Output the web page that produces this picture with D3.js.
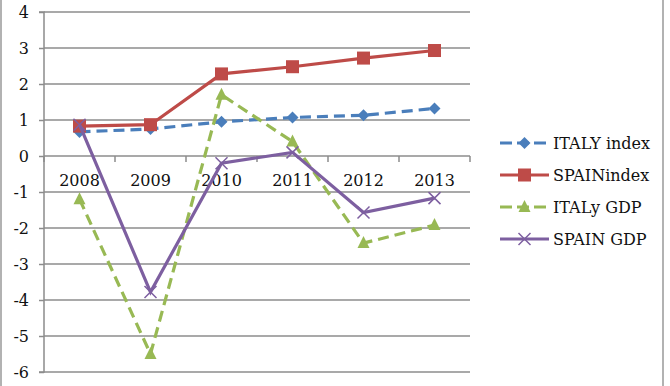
<!DOCTYPE html>
<html><head><meta charset="utf-8">
<script src="https://cdn.jsdelivr.net/npm/d3@7"></script>
<style>body{margin:0;background:#fff}svg{display:block}</style>
</head><body>
<svg id="c" width="670" height="386"></svg>
<script>
const categories = ["2008","2009","2010","2011","2012","2013"];
const italyIndex = [0.67, 0.75, 0.95, 1.07, 1.13, 1.32];
const spainIndex = [0.83, 0.87, 2.28, 2.48, 2.72, 2.93];
const italyGDP   = [-1.2, -5.5, 1.7, 0.4, -2.42, -1.92];
const spainGDP   = [0.87, -3.78, -0.2, 0.1, -1.57, -1.17];
const yTicks = [4,3,2,1,0,-1,-2,-3,-4,-5,-6];
const seriesNames = ["ITALY index","SPAINindex","ITALy GDP","SPAIN GDP"];

const font = "'DejaVu Serif', serif";
const svg = d3.select("#c");
const L = 44, R = 470, T = 12, B = 372;
const x = d3.scaleBand().domain(categories).range([L, R]);
const y = d3.scaleLinear().domain([-6, 4]).range([B, T]);

// frame lines
svg.append("line").attr("x1",1).attr("x2",1).attr("y1",0).attr("y2",386).attr("stroke","#999").attr("stroke-width",1.5);
svg.append("line").attr("x1",663).attr("x2",663).attr("y1",0).attr("y2",386).attr("stroke","#999").attr("stroke-width",1.5);

// gridlines
svg.append("g").selectAll("line").data(yTicks).join("line")
  .attr("x1", L).attr("x2", R).attr("y1", d=>y(d)).attr("y2", d=>y(d))
  .attr("stroke", "#8c8c8c").attr("stroke-width", 1.5);

// y axis
const ya = svg.append("g").attr("transform", `translate(${L},0)`)
  .call(d3.axisLeft(y).tickValues(yTicks).tickSize(5).tickPadding(10).tickFormat(d => String(d)));
ya.select(".domain").attr("stroke","#8c8c8c").attr("stroke-width",1.5).attr("d",`M-5,${T}H0V${B}H-5`);
ya.selectAll(".tick line").attr("stroke","#8c8c8c").attr("stroke-width",1.5);
ya.selectAll("text").attr("font-family", font).attr("font-size", 16).attr("fill","#111");

// x axis at y=0
const xa = svg.append("g").attr("transform", `translate(0,${y(0)})`);
const bounds = categories.map(c => x(c)).concat([R]);
xa.selectAll("line").data(bounds).join("line")
  .attr("x1", d=>d).attr("x2", d=>d).attr("y1", 0).attr("y2", 6)
  .attr("stroke","#8c8c8c").attr("stroke-width",1.5);
xa.selectAll("text").data(categories).join("text")
  .attr("x", d => x(d) + x.bandwidth()/2).attr("y", 30)
  .attr("text-anchor","middle").attr("font-family", font).attr("font-size", 16).attr("fill","#111")
  .text(d=>d);

const cx = c => x(c) + x.bandwidth()/2;
const series = [
  {name: seriesNames[0], vals: italyIndex, color:"#4a7ebb", dash:"11,6", marker:"diamond"},
  {name: seriesNames[1], vals: spainIndex, color:"#be4b48", dash:null, marker:"square"},
  {name: seriesNames[2], vals: italyGDP,   color:"#98b954", dash:"11,6", marker:"triangle"},
  {name: seriesNames[3], vals: spainGDP,   color:"#7d5fa0", dash:null, marker:"x"}
];

function drawMarker(g, type, px, py, color) {
  if (type === "diamond") {
    g.append("path").attr("d", `M${px},${py-6}L${px+6},${py}L${px},${py+6}L${px-6},${py}Z`).attr("fill", color);
  } else if (type === "square") {
    g.append("rect").attr("x", px-6.5).attr("y", py-6.5).attr("width", 13).attr("height", 13).attr("fill", color);
  } else if (type === "triangle") {
    g.append("path").attr("d", `M${px},${py-7}L${px+6},${py+5}L${px-6},${py+5}Z`).attr("fill", color);
  } else {
    g.append("path").attr("d", `M${px-6},${py-6}L${px+6},${py+6}M${px+6},${py-6}L${px-6},${py+6}`)
      .attr("stroke", color).attr("stroke-width", 1.5).attr("fill","none");
  }
}

const line = d3.line().x(d => cx(d.c)).y(d => y(d.v));
series.forEach(s => {
  const g = svg.append("g");
  const pts = categories.map((c,i) => ({c, v: s.vals[i]}));
  g.append("path").attr("d", line(pts)).attr("fill","none").attr("stroke", s.color)
    .attr("stroke-width", 3.2).attr("stroke-dasharray", s.dash);
  pts.forEach(p => drawMarker(g, s.marker, cx(p.c), y(p.v), s.color));
});

// legend
const legY = [143, 175, 207, 239];
series.forEach((s, i) => {
  const g = svg.append("g");
  const ly = legY[i];
  g.append("line").attr("x1", 500).attr("x2", 549).attr("y1", ly).attr("y2", ly)
    .attr("stroke", s.color).attr("stroke-width", 3.2).attr("stroke-dasharray", s.dash ? "12,5" : null);
  drawMarker(g, s.marker, 524.5, ly, s.color);
  g.append("text").attr("x", 553).attr("y", ly + 5.5).attr("font-family", font).attr("font-size", 16)
    .attr("fill", "#111").text(s.name);
});
</script>
</body></html>
